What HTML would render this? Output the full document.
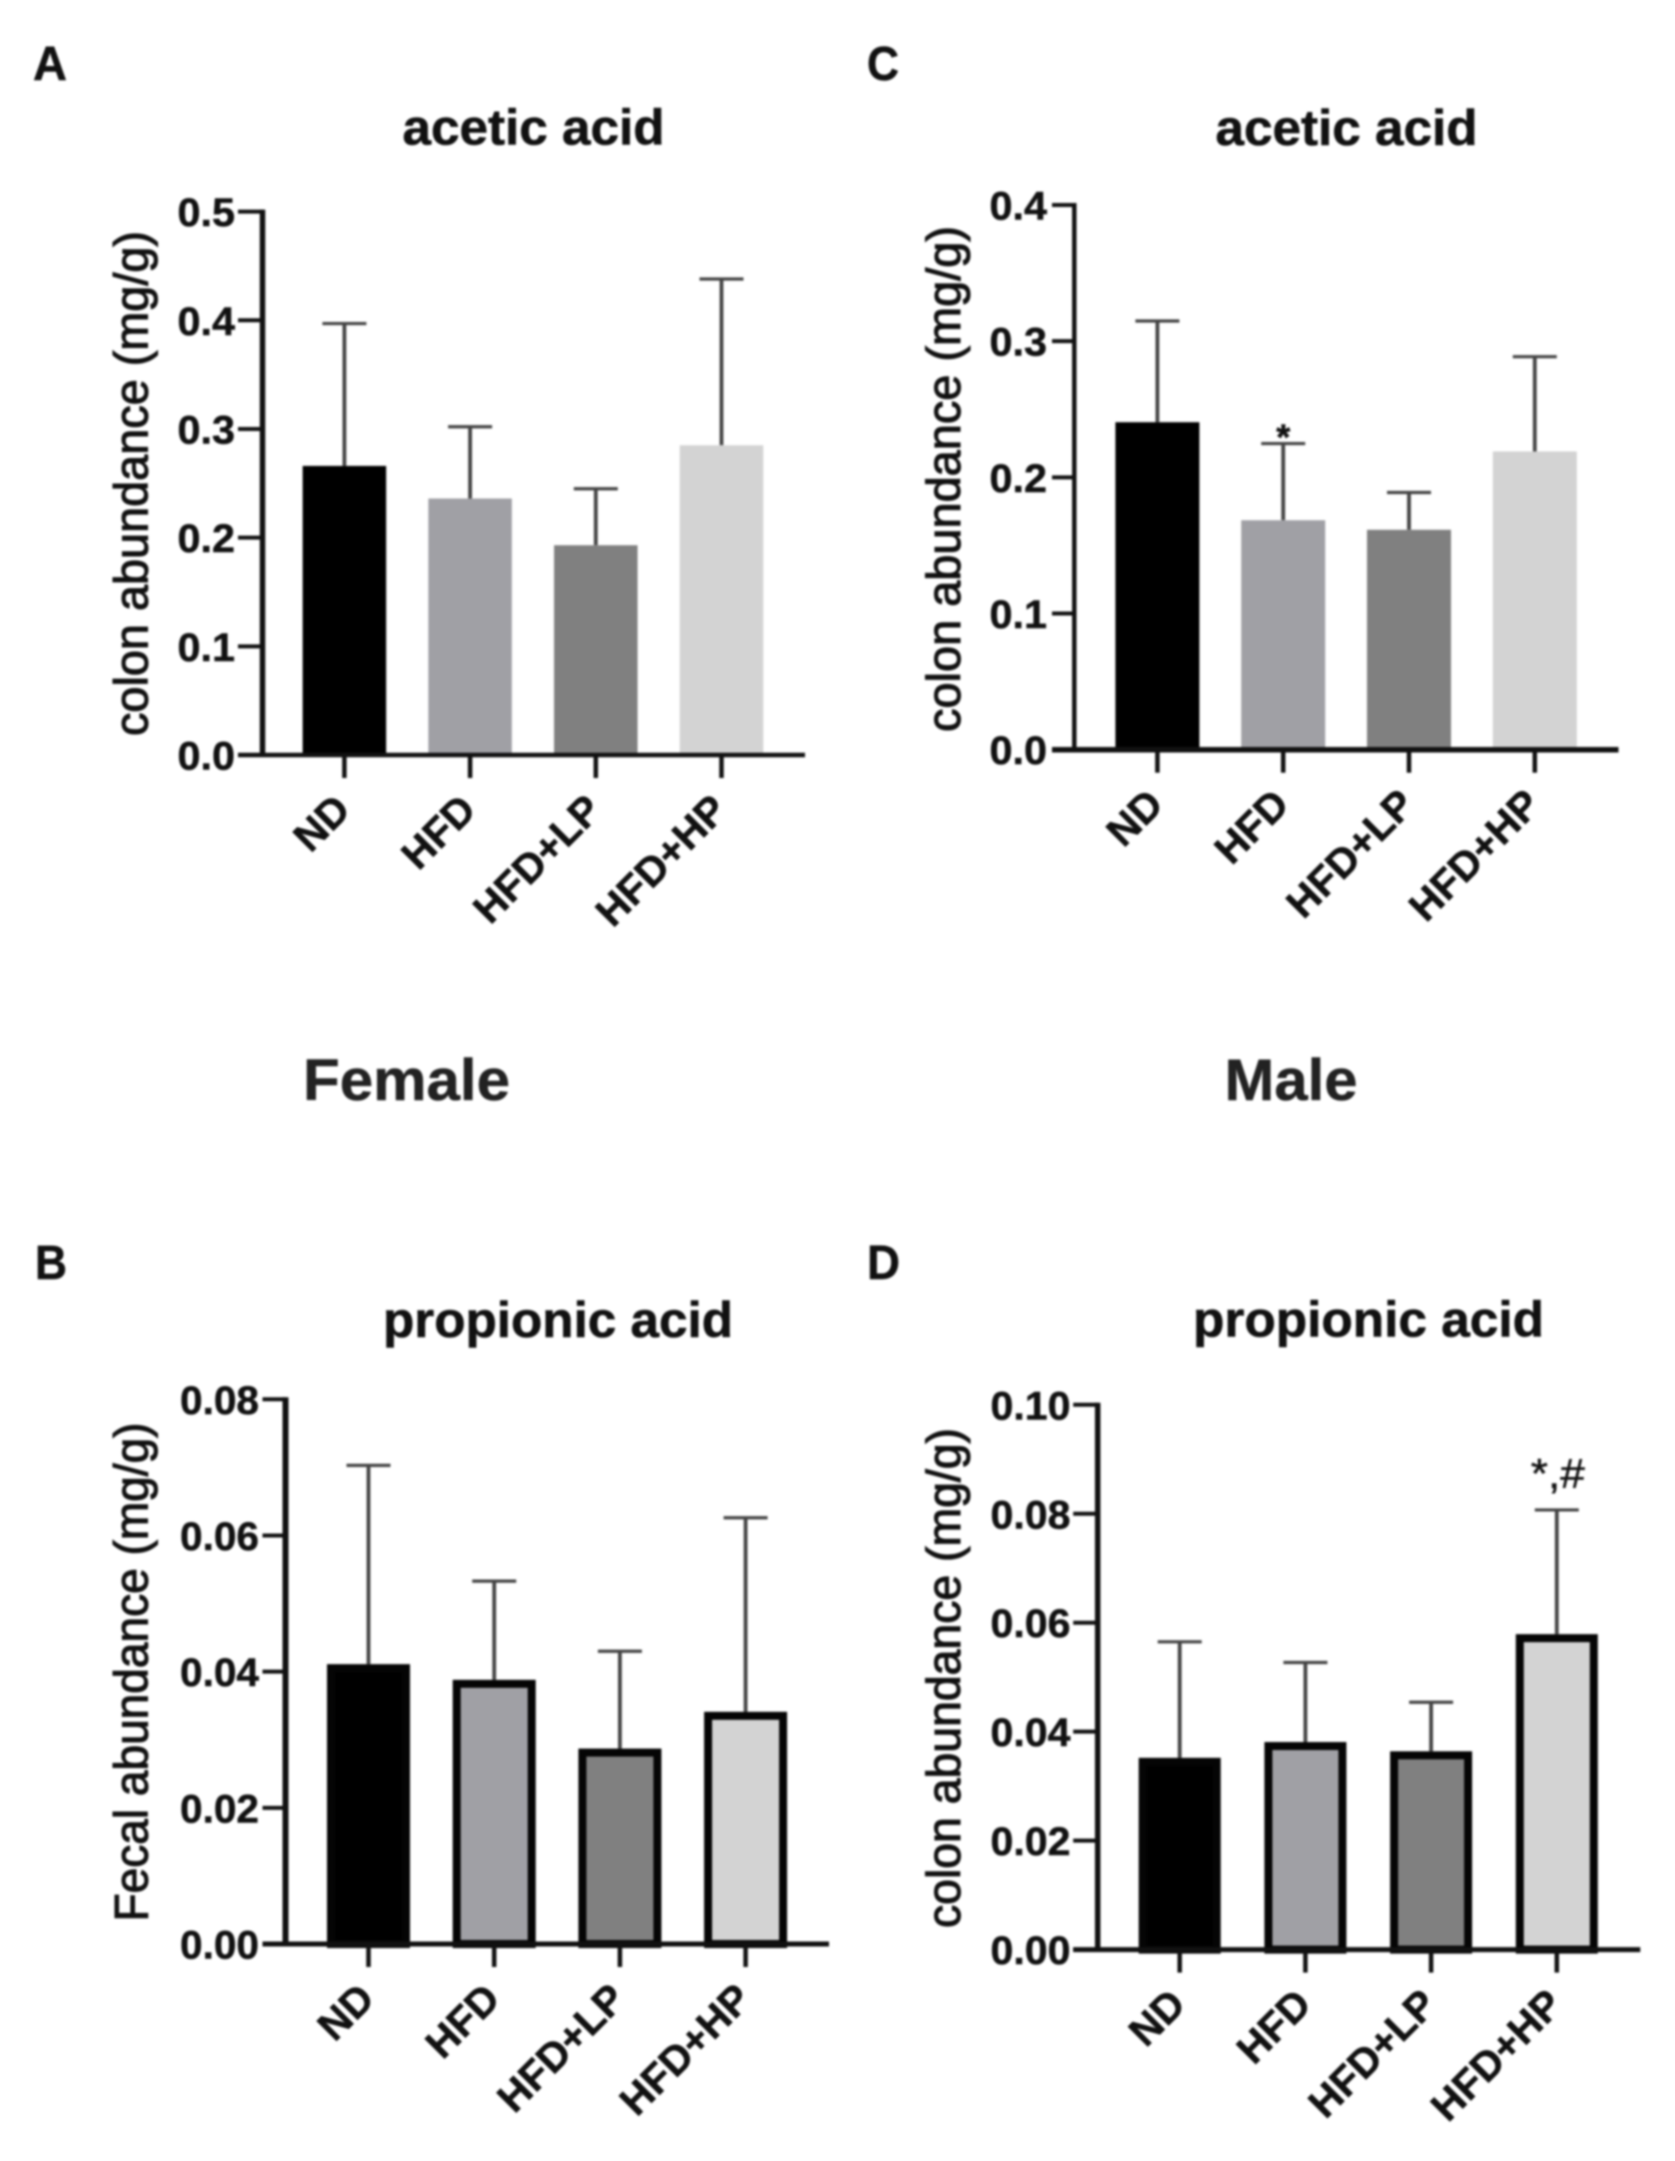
<!DOCTYPE html>
<html lang="en">
<head>
<meta charset="utf-8">
<title>Colon short-chain fatty acid abundance</title>
<style>
  html, body { margin: 0; padding: 0; background: #fff; }
  body { width: 1675px; height: 2161px; overflow: hidden; }
  svg { display: block; filter: blur(1.1px); }
  text { font-family: "Liberation Sans", Arial, sans-serif; fill: #111; }
  .letter { font-size: 48px; font-weight: bold; stroke: #111; stroke-width: 0.5px; }
  .title { font-size: 50px; font-weight: bold; stroke: #111; stroke-width: 0.6px; }
  .group { font-size: 58px; font-weight: bold; fill: #222; stroke: #222; stroke-width: 0.5px; }
  .ytitle { font-size: 47px; stroke: #111; stroke-width: 1.1px; }
  .ticktext { stroke: #111; stroke-width: 0.5px; }
</style>
</head>
<body>
<svg id="figure" xmlns="http://www.w3.org/2000/svg" width="1675" height="2161" viewBox="0 0 1675 2161">
  <rect x="-5" y="-5" width="1685" height="2171" fill="#fff"></rect>

  <text class="letter" x="33" y="80" textLength="34" lengthAdjust="spacingAndGlyphs">A</text>
  <text class="letter" x="867" y="80" textLength="32" lengthAdjust="spacingAndGlyphs">C</text>
  <text class="letter" x="35" y="1279" textLength="32" lengthAdjust="spacingAndGlyphs">B</text>
  <text class="letter" x="867" y="1279" textLength="33" lengthAdjust="spacingAndGlyphs">D</text>

  <text class="title" x="402.5" y="144.6" textLength="262" lengthAdjust="spacingAndGlyphs">acetic acid</text>
  <text class="title" x="1215.5" y="144.8" textLength="262" lengthAdjust="spacingAndGlyphs">acetic acid</text>
  <text class="title" x="383" y="1337" textLength="350" lengthAdjust="spacingAndGlyphs">propionic acid</text>
  <text class="title" x="1193" y="1336.5" textLength="351" lengthAdjust="spacingAndGlyphs">propionic acid</text>

  <text class="group" x="303" y="1100" textLength="207" lengthAdjust="spacingAndGlyphs">Female</text>
  <text class="group" x="1224.5" y="1100" textLength="133" lengthAdjust="spacingAndGlyphs">Male</text>

  <text class="ytitle" transform="translate(147.5,736) rotate(-90)" textLength="505" lengthAdjust="spacingAndGlyphs">colon abundance (mg/g)</text>
  <text class="ytitle" transform="translate(960,732) rotate(-90)" textLength="506" lengthAdjust="spacingAndGlyphs">colon abundance (mg/g)</text>
  <text class="ytitle" transform="translate(147.5,1921.5) rotate(-90)" textLength="499" lengthAdjust="spacingAndGlyphs">Fecal abundance (mg/g)</text>
  <text class="ytitle" transform="translate(960,1928) rotate(-90)" textLength="500" lengthAdjust="spacingAndGlyphs">colon abundance (mg/g)</text>
</svg>

<script>
const categories = ["ND", "HFD", "HFD+LP", "HFD+HP"];

const panelAMeans = [0.266, 0.236, 0.193, 0.285];
const panelAErrors = [0.131, 0.066, 0.052, 0.153];
const panelATicks = ["0.0", "0.1", "0.2", "0.3", "0.4", "0.5"];

const panelCMeans = [0.2405, 0.1685, 0.1615, 0.219];
const panelCErrors = [0.0743, 0.0563, 0.0274, 0.0696];
const panelCTicks = ["0.0", "0.1", "0.2", "0.3", "0.4"];

const panelBMeans = [0.0411, 0.0388, 0.0287, 0.0341];
const panelBErrors = [0.0292, 0.0145, 0.0143, 0.0285];
const panelBTicks = ["0.00", "0.02", "0.04", "0.06", "0.08"];

const panelDMeans = [0.0352, 0.0381, 0.0364, 0.0579];
const panelDErrors = [0.0213, 0.0146, 0.009, 0.0228];
const panelDTicks = ["0.00", "0.02", "0.04", "0.06", "0.08", "0.10"];

const barFills = ["#000000", "#a0a0a5", "#808080", "#d3d3d3"];

const SVG_NS = "http://www.w3.org/2000/svg";
const figure = document.getElementById("figure");

function make(tag, parent, attrs) {
  const el = document.createElementNS(SVG_NS, tag);
  for (const k in attrs) el.setAttribute(k, attrs[k]);
  parent.appendChild(el);
  return el;
}

function drawPanel(cfg) {
  const group = make("g", figure, {});
  
  

  const yMax = parseFloat(cfg.ticks[cfg.ticks.length - 1]);
  const yScale = function (v) { return cfg.y0 - (v / yMax) * (cfg.y0 - cfg.yTop); };
  const xScale = function (i) { return cfg.xFirst + i * cfg.xStep; };

  cfg.means.forEach(function (mean, i) {
    const cx = xScale(i);
    const top = yScale(mean);
    const capY = yScale(mean + cfg.errors[i]);

    const stem = make("line", group, { x1: cx, x2: cx, y1: capY, y2: top, stroke: "#444", "stroke-width": 3.8 });
    
    

    const cap = make("line", group, { x1: cx - 22, x2: cx + 22, y1: capY, y2: capY, stroke: "#444", "stroke-width": 3.2 });
    
    

    const inset = cfg.barStroke / 2;
    const bar = make("rect", group, {
      x: cx - cfg.barWidth / 2 + inset,
      y: top + inset,
      width: cfg.barWidth - cfg.barStroke,
      height: Math.max(0, cfg.y0 - top - inset),
      fill: barFills[i],
      stroke: cfg.barStroke ? "#050505" : "none",
      "stroke-width": cfg.barStroke
    });
    
    

    const tick = make("line", group, { x1: cx, x2: cx, y1: cfg.y0, y2: cfg.y0 + 23, stroke: "#111", "stroke-width": 4.5 });
    
    

    const label = make("text", group, {
      "class": "ticktext",
      transform: "translate(" + (cx + 8) + "," + (cfg.y0 + 57) + ") rotate(-45)",
      "text-anchor": "end",
      "font-size": 41,
      "font-weight": "bold"
    });
    label.textContent = categories[i];
    
    
  });

  const yAxis = make("line", group, { x1: cfg.xAxis, x2: cfg.xAxis, y1: cfg.yTop - 2, y2: cfg.y0, stroke: "#111", "stroke-width": cfg.yAxisWidth });
  
  

  const xAxis = make("line", group, { x1: cfg.tickLeft, x2: cfg.xRight, y1: cfg.y0, y2: cfg.y0, stroke: "#111", "stroke-width": cfg.xAxisWidth });
  
  

  cfg.ticks.forEach(function (tickText) {
    const ty = yScale(parseFloat(tickText));
    const tick = make("line", group, { x1: cfg.tickLeft, x2: cfg.xAxis, y1: ty, y2: ty, stroke: "#111", "stroke-width": 4 });
    
    

    const label = make("text", group, {
      "class": "ticktext",
      x: cfg.labelRight - cfg.labelWidth,
      y: ty + 14.5,
      "font-size": 40,
      "font-weight": "bold",
      textLength: cfg.labelWidth,
      lengthAdjust: "spacingAndGlyphs"
    });
    label.textContent = tickText;
    
    
  });

  return { xScale: xScale, yScale: yScale, group: group };
}

drawPanel({
  id: "a", means: panelAMeans, errors: panelAErrors, ticks: panelATicks,
  y0: 755, yTop: 211.6, xAxis: 262.5, xRight: 805, tickLeft: 238,
  xFirst: 344.4, xStep: 125.7, barWidth: 83.5, barStroke: 0,
  yAxisWidth: 5.5, xAxisWidth: 4.5, labelRight: 235, labelWidth: 57.5
});

const panelC = drawPanel({
  id: "c", means: panelCMeans, errors: panelCErrors, ticks: panelCTicks,
  y0: 749.7, yTop: 205, xAxis: 1074.3, xRight: 1618.5, tickLeft: 1052,
  xFirst: 1157.4, xStep: 125.8, barWidth: 84, barStroke: 0,
  yAxisWidth: 4.5, xAxisWidth: 5.5, labelRight: 1047, labelWidth: 57.5
});

drawPanel({
  id: "b", means: panelBMeans, errors: panelBErrors, ticks: panelBTicks,
  y0: 1944, yTop: 1399.3, xAxis: 285.5, xRight: 829, tickLeft: 262.5,
  xFirst: 368.5, xStep: 125.7, barWidth: 83, barStroke: 8,
  yAxisWidth: 6, xAxisWidth: 5, labelRight: 259, labelWidth: 79
});

const panelD = drawPanel({
  id: "d", means: panelDMeans, errors: panelDErrors, ticks: panelDTicks,
  y0: 1949.6, yTop: 1404.8, xAxis: 1097.7, xRight: 1640.3, tickLeft: 1073.2,
  xFirst: 1179.7, xStep: 125.7, barWidth: 82, barStroke: 8,
  yAxisWidth: 5.5, xAxisWidth: 5, labelRight: 1070.5, labelWidth: 80
});

const starC = make("text", panelC.group, {
  "class": "ticktext",
  x: panelC.xScale(1),
  y: panelC.yScale(panelCMeans[1] + panelCErrors[1]) + 6,
  "text-anchor": "middle",
  "font-size": 36,
  "font-weight": "bold"
});
starC.textContent = "*";



const starD = make("text", panelD.group, {
  "class": "ticktext",
  x: panelD.xScale(3) - 26,
  y: panelD.yScale(panelDMeans[3] + panelDErrors[3]) - 22,
  "font-size": 42,
  textLength: 54,
  lengthAdjust: "spacingAndGlyphs"
});
starD.textContent = "*,#";


</script>
</body>
</html>
